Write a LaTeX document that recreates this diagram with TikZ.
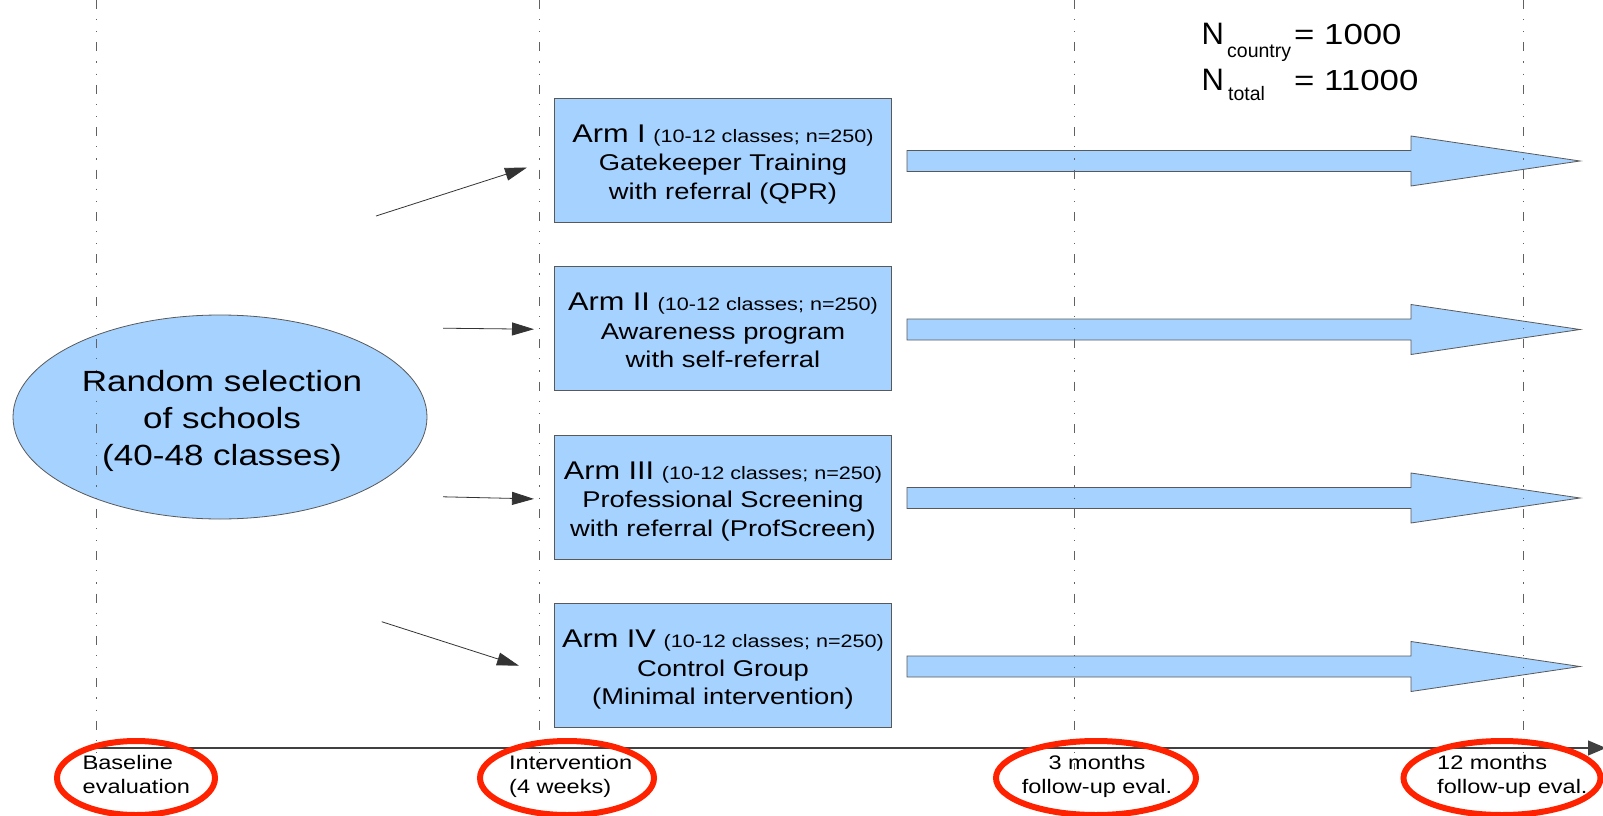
\documentclass[tikz,border=0pt]{standalone}
\usepackage{fontspec}
\setmainfont{Liberation Sans}[FakeStretch=1.2]
\newfontfamily\plainsans{Liberation Sans}
\usetikzlibrary{arrows.meta,shapes.geometric}
\definecolor{armblue}{RGB}{166,210,255}
\definecolor{evalred}{RGB}{255,34,0}
\newcommand{\armlabel}[2]{{\fontsize{25.6}{28.5}\selectfont #1}\ {\fontsize{18}{28.5}\selectfont #2}}
\begin{document}
\begin{tikzpicture}[x=1pt,y=-1pt,
  armbox/.style={draw=black!65, fill=armblue, line width=0.8pt, minimum width=336.5pt, minimum height=124pt, inner sep=0pt},
  armtext/.style={anchor=base, align=center, inner sep=0pt, font=\fontsize{22.8}{28.5}\selectfont},
  selbox/.style={ellipse, draw=black!65, fill=armblue, line width=0.8pt, minimum width=414pt, minimum height=204pt, inner sep=0pt},
  seltext/.style={anchor=base, align=center, inner sep=0pt, font=\fontsize{29.2}{36.7}\selectfont},
  bigarrow/.style={draw=black!65, fill=armblue, line width=0.8pt, line join=miter},
  smallarrow/.style={draw=black!80, line width=0.8pt, -{Triangle[length=22pt,width=13pt]}},
  timeaxis/.style={draw=black!75, line width=1.1pt, -{Triangle[length=18pt,width=15pt]}},
  phaseline/.style={draw=black!62, line width=1pt, dash pattern=on 9pt off 10pt on 1.2pt off 11pt on 1.2pt off 10pt},
  evalring/.style={ellipse, draw=evalred, line width=6pt, inner sep=0pt},
  evaltext/.style={inner sep=0pt, font=\fontsize{19.6}{24.3}\selectfont},
  ntext/.style={anchor=base west, inner sep=0pt, font=\plainsans\fontsize{31}{36}\selectfont},
  nval/.style={anchor=base west, inner sep=0pt, font=\fontsize{29}{36}\selectfont},
  nsub/.style={anchor=base west, inner sep=0pt, font=\plainsans\fontsize{19.5}{22}\selectfont}
]
\useasboundingbox (0,0) rectangle (1603,816);

% selection ellipse
\node[selbox] (sel) at (220,417) {};

% arm boxes
\node[armbox] (arm1) at (723,160) {};
\node[armbox] (arm2) at (723,328.5) {};
\node[armbox] (arm3) at (723,497) {};
\node[armbox] (arm4) at (723,665.5) {};

% big arrows
\foreach \c/\nm in {161/a1,329.5/a2,498/a3,666.5/a4}{
  \draw[bigarrow] (907,\c-10.5) -- (1411,\c-10.5) -- (1411,\c-25) -- (1580,\c)
    -- (1411,\c+25) -- (1411,\c+10.5) -- (907,\c+10.5) -- cycle;
}

% phase lines
\foreach \x/\nm in {96/p0,539/p1,1074/p2,1523/p3}{
  \coordinate (\nm top) at (\x,0);
  \coordinate (\nm bot) at (\x,770);
  \draw[phaseline] (\nm top) -- (\nm bot);
}

% texts (anchor base = baseline of the last line)
\node[seltext] (seltxt) at (222,465.1) {Random selection\\of schools\\(40-48 classes)};
\node[armtext] (arm1txt) at (723,199.3) {\armlabel{Arm I}{(10-12 classes; n=250)}\\Gatekeeper Training\\with referral (QPR)};
\node[armtext] (arm2txt) at (723,367.8) {\armlabel{Arm II}{(10-12 classes; n=250)}\\Awareness program\\with self-referral};
\node[armtext] (arm3txt) at (723,536.3) {\armlabel{Arm III}{(10-12 classes; n=250)}\\Professional Screening\\with referral (ProfScreen)};
\node[armtext] (arm4txt) at (723,704.8) {\armlabel{Arm IV}{(10-12 classes; n=250)}\\Control Group\\(Minimal intervention)};

% small arrows
\coordinate (s1) at (376,216);   \coordinate (e1) at (527,167.5);
\coordinate (s2) at (443,328.2); \coordinate (e2) at (534,329.2);
\coordinate (s3) at (443,496.8); \coordinate (e3) at (534,498.9);
\coordinate (s4) at (381.7,621.7); \coordinate (e4) at (519,665.7);
\draw[smallarrow] (s1) -- (e1);
\draw[smallarrow] (s2) -- (e2);
\draw[smallarrow] (s3) -- (e3);
\draw[smallarrow] (s4) -- (e4);

% time axis
\coordinate (tstart) at (96,748);
\coordinate (tend) at (1606,748);
\draw[timeaxis] (tstart) -- (tend);

% evaluation rings
\node[evalring, minimum width=158pt, minimum height=74pt] (r0) at (136,778) {};
\node[evalring, minimum width=174pt, minimum height=74pt] (r1) at (567,778) {};
\node[evalring, minimum width=200pt, minimum height=74pt] (r2) at (1096,778) {};
\node[evalring, minimum width=197pt, minimum height=74pt] (r3) at (1502,778) {};

\node[evaltext, anchor=base west, align=left] (l0) at (82.5,793.3) {Baseline\\evaluation};
\node[evaltext, anchor=base west, align=left] (l1) at (509,793.3) {Intervention\\(4 weeks)};
\node[evaltext, anchor=base, align=center] (l2) at (1097,793.3) {3 months\\follow-up eval.};
\node[evaltext, anchor=base west, align=left] (l3) at (1437,793.3) {12 months\\follow-up eval.};

% sample sizes
\node[ntext] (n1) at (1201.5,45) {N};
\node[nsub] (n1s) at (1227,57.5) {country};
\node[nval] (n1v) at (1294,45) {= 1000};
\node[ntext] (n2) at (1201.5,90) {N};
\node[nsub] (n2s) at (1228,100.7) {total};
\node[nval] (n2v) at (1294,90) {= 11000};
\end{tikzpicture}
\end{document}
